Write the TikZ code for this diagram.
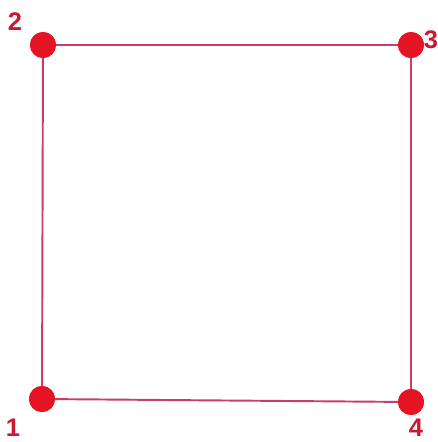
\documentclass[tikz,border=0pt]{standalone}
\usepackage{fontspec}
\setmainfont{Liberation Sans}
\usetikzlibrary{positioning}
\definecolor{edgered}{RGB}{200,60,110}
\definecolor{dotred}{RGB}{230,20,35}
\definecolor{labred}{RGB}{200,25,55}

\begin{document}
\begin{tikzpicture}[
  x=0.02cm, y=-0.02cm,
  vertex/.style={circle, fill=dotred, inner sep=0pt, minimum size=0.52cm},
  lab/.style={text=labred, font=\fontsize{14.5}{16}\selectfont\bfseries, inner sep=0pt},
  edge/.style={draw=edgered, line width=1.1pt}
]
  \useasboundingbox (0,0) rectangle (438,442);

  \node[vertex] (v2) at (43,45) {};
  \node[vertex] (v3) at (411,45) {};
  \node[vertex] (v1) at (42,399) {};
  \node[vertex] (v4) at (411,402) {};

  \draw[edge] (v1.center) -- (v2.center) -- (v3.center) -- (v4.center) -- cycle;
  \foreach \v in {v1,v2,v3,v4} \node[vertex] at (\v) {};

  \node[lab] (l2) at (15,22) {2};
  \node[lab] (l3) at (431,40) {3};
  \node[lab] (l1) at (13,428) {1};
  \node[lab] (l4) at (416,428) {4};
\end{tikzpicture}
\end{document}
